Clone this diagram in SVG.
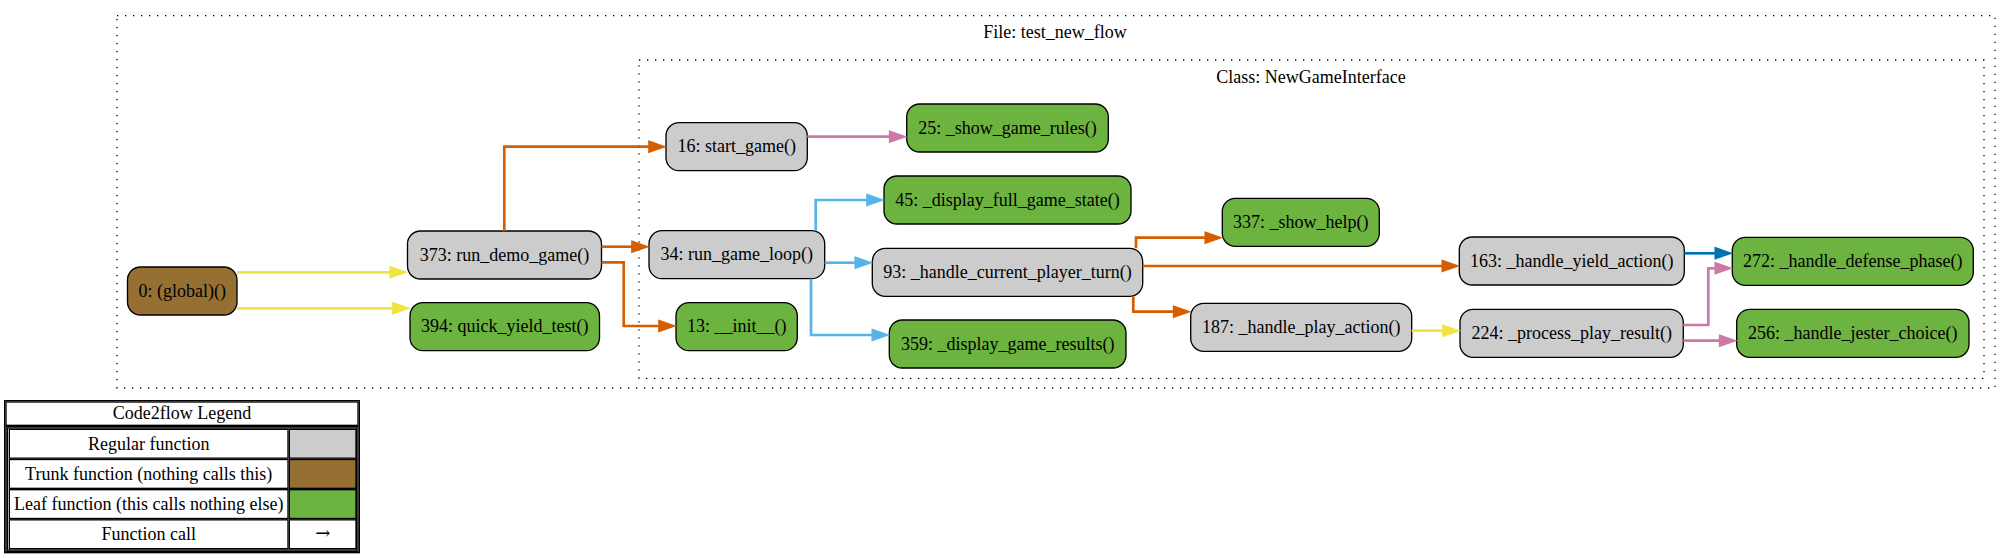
<svg xmlns="http://www.w3.org/2000/svg" width="2011" height="558" viewBox="0 0 2011 558">
<style>
text{font-family:"Liberation Serif","Times New Roman",serif;font-size:18px;fill:#000}
.t{text-anchor:middle}
.arr{font-family:"DejaVu Serif","DejaVu Sans",serif;font-size:18px}
.cl{fill:none;stroke:#000;stroke-width:1.33;stroke-dasharray:1.33,6.67}
.n rect{stroke:#000;stroke-width:1.33}
.reg{fill:#cccccc}
.trunk{fill:#966f33}
.leaf{fill:#6db33f}
.e{fill:none;stroke-width:2.67}
.o{stroke:#D55E00}
.b{stroke:#56B4E9}
.y{stroke:#F0E442}
.p{stroke:#CC79A7}
.d{stroke:#0072B2}
.lg{fill:none;stroke:#000;stroke-width:1.33}
</style>
<defs>
<marker id="mo" markerUnits="userSpaceOnUse" markerWidth="20" markerHeight="14" refX="0" refY="0" orient="auto" overflow="visible"><path d="M0,-4.67L13.33,0L0,4.67Z" fill="#D55E00" stroke="#D55E00" stroke-width="2.67"/></marker>
<marker id="mb" markerUnits="userSpaceOnUse" markerWidth="20" markerHeight="14" refX="0" refY="0" orient="auto" overflow="visible"><path d="M0,-4.67L13.33,0L0,4.67Z" fill="#56B4E9" stroke="#56B4E9" stroke-width="2.67"/></marker>
<marker id="my" markerUnits="userSpaceOnUse" markerWidth="20" markerHeight="14" refX="0" refY="0" orient="auto" overflow="visible"><path d="M0,-4.67L13.33,0L0,4.67Z" fill="#F0E442" stroke="#F0E442" stroke-width="2.67"/></marker>
<marker id="mp" markerUnits="userSpaceOnUse" markerWidth="20" markerHeight="14" refX="0" refY="0" orient="auto" overflow="visible"><path d="M0,-4.67L13.33,0L0,4.67Z" fill="#CC79A7" stroke="#CC79A7" stroke-width="2.67"/></marker>
<marker id="md" markerUnits="userSpaceOnUse" markerWidth="20" markerHeight="14" refX="0" refY="0" orient="auto" overflow="visible"><path d="M0,-4.67L13.33,0L0,4.67Z" fill="#0072B2" stroke="#0072B2" stroke-width="2.67"/></marker>
</defs>
<rect width="2011" height="558" fill="#fff"/>

<g id="cluster_file">
<rect class="cl" x="117" y="15.7" width="1878" height="372.3"/>
<text class="t" x="1055" y="38.3">File: test_new_flow</text>
</g>
<g id="cluster_class">
<rect class="cl" x="639" y="60" width="1345" height="318.3"/>
<text class="t" x="1311" y="82.5">Class: NewGameInterface</text>
</g>

<g id="node_global" class="n"><rect class="trunk" x="127.5" y="267" width="109.5" height="48" rx="13"/><text class="t" x="182.3" y="296.6">0: (global)()</text></g>
<g id="node_run_demo_game" class="n"><rect class="reg" x="407.5" y="231" width="194" height="48" rx="13"/><text class="t" x="504.5" y="260.6">373: run_demo_game()</text></g>
<g id="node_quick_yield_test" class="n"><rect class="leaf" x="410" y="302.7" width="189.5" height="48" rx="13"/><text class="t" x="504.7" y="332.3">394: quick_yield_test()</text></g>
<g id="node_start_game" class="n"><rect class="reg" x="666" y="122.7" width="141.3" height="48" rx="13"/><text class="t" x="736.7" y="152.3">16: start_game()</text></g>
<g id="node_show_game_rules" class="n"><rect class="leaf" x="906.7" y="104" width="201.6" height="48" rx="13"/><text class="t" x="1007.5" y="133.6">25: _show_game_rules()</text></g>
<g id="node_display_full_game_state" class="n"><rect class="leaf" x="884" y="176" width="247" height="48" rx="13"/><text class="t" x="1007.5" y="205.6">45: _display_full_game_state()</text></g>
<g id="node_run_game_loop" class="n"><rect class="reg" x="649" y="230.7" width="175.7" height="48" rx="13"/><text class="t" x="736.8" y="260.3">34: run_game_loop()</text></g>
<g id="node_handle_current_player_turn" class="n"><rect class="reg" x="872.3" y="248.3" width="270.4" height="48" rx="13"/><text class="t" x="1007.5" y="277.9">93: _handle_current_player_turn()</text></g>
<g id="node_init" class="n"><rect class="leaf" x="676" y="302.7" width="121.3" height="48" rx="13"/><text class="t" x="736.7" y="332.3">13: __init__()</text></g>
<g id="node_display_game_results" class="n"><rect class="leaf" x="889.3" y="320" width="236.7" height="48" rx="13"/><text class="t" x="1007.7" y="349.6">359: _display_game_results()</text></g>
<g id="node_show_help" class="n"><rect class="leaf" x="1222.3" y="198.3" width="157" height="48" rx="13"/><text class="t" x="1300.8" y="227.9">337: _show_help()</text></g>
<g id="node_handle_yield_action" class="n"><rect class="reg" x="1459.3" y="237" width="225" height="48" rx="13"/><text class="t" x="1571.8" y="266.6">163: _handle_yield_action()</text></g>
<g id="node_handle_play_action" class="n"><rect class="reg" x="1190.7" y="303.3" width="221" height="48" rx="13"/><text class="t" x="1301.2" y="332.9">187: _handle_play_action()</text></g>
<g id="node_process_play_result" class="n"><rect class="reg" x="1460" y="309.3" width="223.3" height="48" rx="13"/><text class="t" x="1571.7" y="338.9">224: _process_play_result()</text></g>
<g id="node_handle_defense_phase" class="n"><rect class="leaf" x="1732.3" y="237.3" width="241" height="48" rx="13"/><text class="t" x="1852.8" y="266.9">272: _handle_defense_phase()</text></g>
<g id="node_handle_jester_choice" class="n"><rect class="leaf" x="1736.7" y="309.3" width="232.3" height="48" rx="13"/><text class="t" x="1852.8" y="338.9">256: _handle_jester_choice()</text></g>

<g id="connectors">
<path class="e y" marker-end="url(#my)" d="M237,272.3H390.8"/>
<path class="e y" marker-end="url(#my)" d="M237,308.3H393.5"/>
<path class="e o" marker-end="url(#mo)" d="M504.3,231V146.7H649.5"/>
<path class="e o" marker-end="url(#mo)" d="M601.5,246.7H632.5"/>
<path class="e o" marker-end="url(#mo)" d="M601.5,262.3H623.7V326H659.5"/>
<path class="e p" marker-end="url(#mp)" d="M807.3,136.7H890.2"/>
<path class="e b" marker-end="url(#mb)" d="M815.7,230.7V200H867.5"/>
<path class="e b" marker-end="url(#mb)" d="M824.7,262.7H855.8"/>
<path class="e b" marker-end="url(#mb)" d="M811,278.7V335H872.8"/>
<path class="e o" marker-end="url(#mo)" d="M1136,248.3V237.7H1205.8"/>
<path class="e o" marker-end="url(#mo)" d="M1142.7,266H1442.8"/>
<path class="e o" marker-end="url(#mo)" d="M1133.3,296.3V311.7H1174.2"/>
<path class="e y" marker-end="url(#my)" d="M1411.7,330.7H1443.5"/>
<path class="e d" marker-end="url(#md)" d="M1684.3,253.3H1715.8"/>
<path class="e p" marker-end="url(#mp)" d="M1683.3,325H1708.3V268.3H1715.8"/>
<path class="e p" marker-end="url(#mp)" d="M1683.3,340.7H1720.2"/>
</g>

<g id="legend">
<rect x="4.67" y="400.67" width="354.67" height="152" fill="#fff" stroke="#000" stroke-width="1.33"/>
<rect class="lg" x="6" y="402" width="352" height="23.33"/>
<text class="t" x="182" y="419.3">Code2flow Legend</text>
<rect class="lg" x="6" y="426.67" width="352" height="124.67"/>
<rect class="lg" x="7.33" y="428" width="349.33" height="122"/>
<rect class="lg" x="9.33" y="429.33" width="278.67" height="28.83"/>
<rect x="289.33" y="429.33" width="66.67" height="28.83" fill="#cccccc" stroke="#000" stroke-width="1.33"/>
<text class="t" x="148.7" y="449.6">Regular function</text>
<rect class="lg" x="9.33" y="459.5" width="278.67" height="28.83"/>
<rect x="289.33" y="459.5" width="66.67" height="28.83" fill="#966f33" stroke="#000" stroke-width="1.33"/>
<text class="t" x="148.7" y="479.8">Trunk function (nothing calls this)</text>
<rect class="lg" x="9.33" y="489.67" width="278.67" height="28.83"/>
<rect x="289.33" y="489.67" width="66.67" height="28.83" fill="#6db33f" stroke="#000" stroke-width="1.33"/>
<text class="t" x="148.7" y="509.9">Leaf function (this calls nothing else)</text>
<rect class="lg" x="9.33" y="519.83" width="278.67" height="28.83"/>
<rect class="lg" x="289.33" y="519.83" width="66.67" height="28.83"/>
<text class="t" x="148.7" y="540">Function call</text>
<text class="t arr" x="322.7" y="539">→</text>
</g>
</svg>
